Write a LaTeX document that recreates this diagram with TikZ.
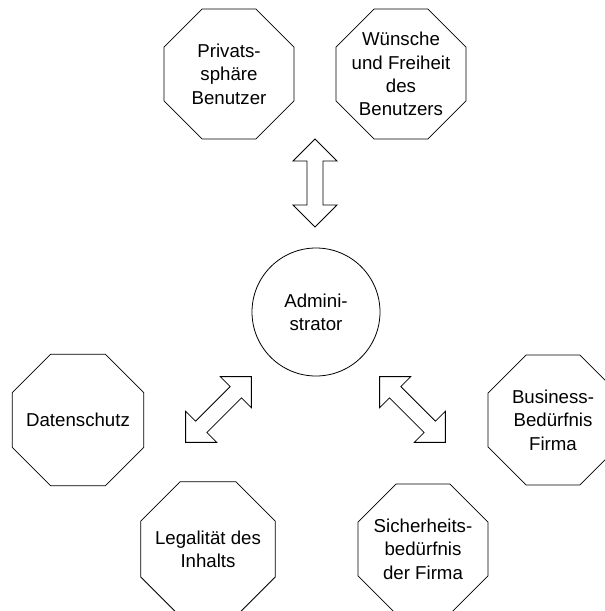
\documentclass[tikz,border=0pt]{standalone}
\usepackage{fontspec}
\setmainfont{Liberation Sans}
\usetikzlibrary{shapes.geometric}

\begin{document}
\begin{tikzpicture}[x=0.75pt,y=-0.75pt,line width=0.6pt]
    \tikzstyle{every node}=[font=\fontsize{14}{17.5}\selectfont]
    \tikzstyle{goal}=[draw, regular polygon, regular polygon sides=8, minimum size=105.5pt, inner sep=-4pt, align=center]
    \tikzstyle{role}=[draw, circle, minimum size=96pt, inner sep=0pt, align=center]
    \tikzstyle{arrowline}=[draw, fill=white]

    % hollow double arrow, #1 is half its length
    \tikzset{pics/dblarrow/.style={code={
        \path[arrowline] (-#1,0) -- (-#1+22,22) -- (-#1+22,8) -- (#1-22,8)
            -- (#1-22,22) -- (#1,0) -- (#1-22,-22) -- (#1-22,-8)
            -- (-#1+22,-8) -- (-#1+22,-22) -- cycle;}}}

    \useasboundingbox (0,0) rectangle (605,611);
    \clip (0,0) rectangle (605,611);

    % Draw the administrator in the middle
    \node[role] (admin) at (316,312) {Admini-\\strator};

    % Draw the user goals
    \node[goal] (privat) at (229,74) {Privats-\\sphäre\\Benutzer};
    \node[goal] (wunsch) at (401,74) {Wünsche\\und Freiheit\\des\\Benutzers};

    % Draw the legal goals
    \node[goal] (daten) at (78,420) {Datenschutz};
    \node[goal] (legal) at (208,549) {Legalität des\\Inhalts};

    % Draw the company goals
    \node[goal] (business) at (553,420) {Business-\\Bedürfnis\\Firma};
    \node[goal] (sicher) at (423,549) {Sicherheits-\\bedürfnis\\der Firma};

    % Draw the arrows between the groups and the administrator
    \pic[rotate=90] (up) at (315,183) {dblarrow=44};
    \pic[rotate=45] (left) at (218.5,409.5) {dblarrow=46.5};
    \pic[rotate=-45] (right) at (412.5,409.5) {dblarrow=46.5};
\end{tikzpicture}
\end{document}
